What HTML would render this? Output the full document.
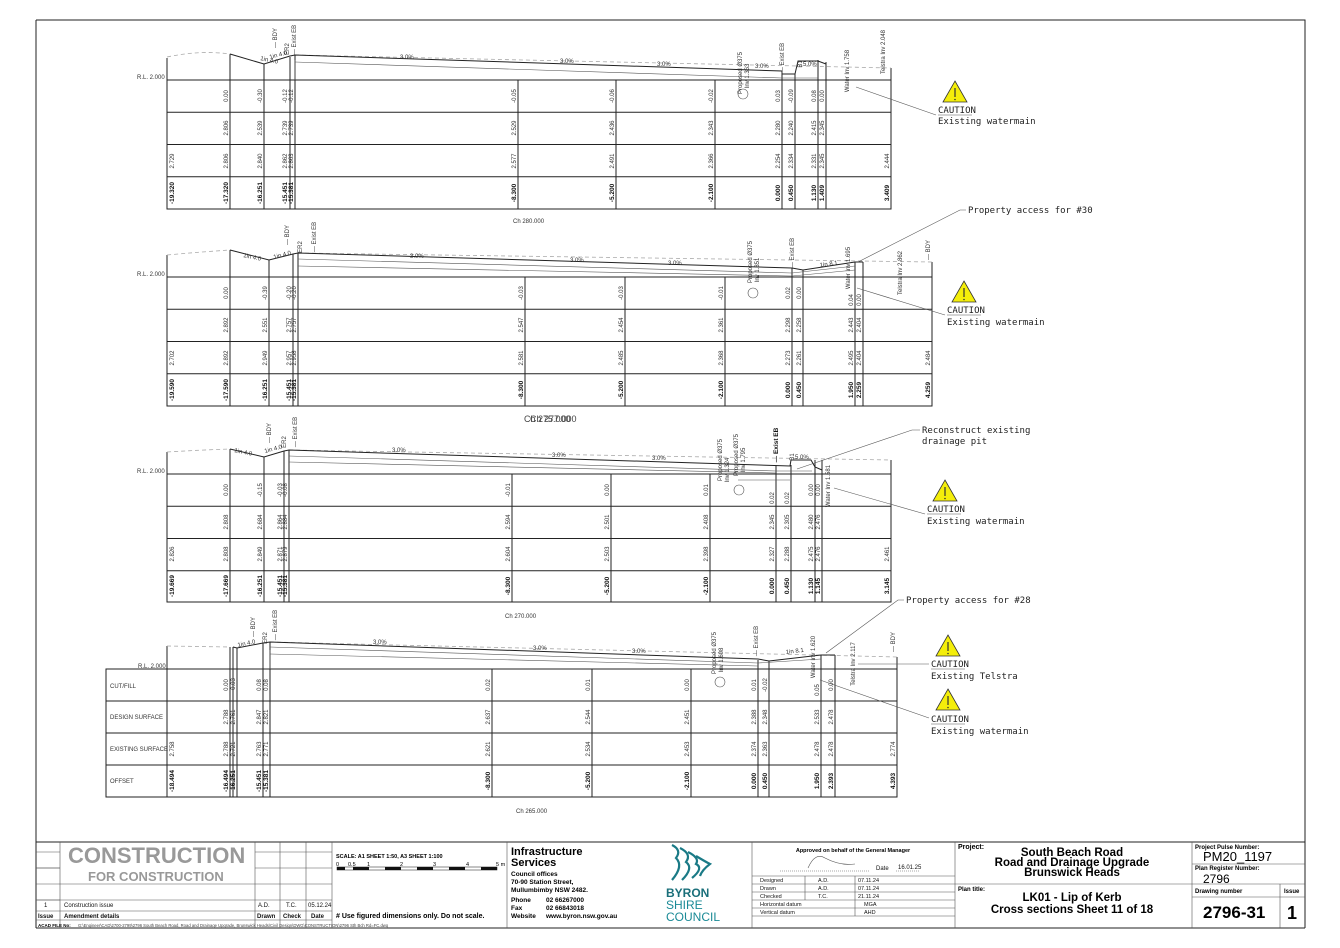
<!DOCTYPE html>
<html><head><meta charset="utf-8"><style>
html,body{margin:0;padding:0;background:#fff;}
svg{display:block;font-family:"Liberation Sans",sans-serif;}
.t{font-size:6px;fill:#333;text-anchor:middle;}
.b{font-size:6.5px;font-weight:bold;fill:#111;text-anchor:middle;}
.s{font-size:6px;fill:#333;}
.ln{stroke:#222;stroke-width:1;fill:none;}
.th{stroke:#555;stroke-width:0.6;fill:none;}
.ds{stroke:#aaa;stroke-width:0.8;fill:none;stroke-dasharray:4 3;}
.an{font-family:"DejaVu Sans Mono","Liberation Mono",monospace;font-size:9px;fill:#222;}
.tb{font-size:6px;fill:#111;}
</style></head><body>
<svg width="1340" height="948" viewBox="0 0 1340 948" xmlns="http://www.w3.org/2000/svg">
<rect x="0" y="0" width="1340" height="948" fill="#fff"/>
<!-- frame -->
<path d="M36 20 H1305 V928" class="ln" stroke-width="0.8"/>
<path d="M36 20 V928" class="ln" stroke-width="0.8"/>

<!-- ============ SECTION 1 ============ -->
<g>
<text x="137" y="79" class="s">R.L. 2.000</text>
<rect x="167" y="80" width="724" height="129" class="ln"/>
<path d="M167 112.3H891M167 144.5H891M167 176.8H891" class="ln"/>
<path d="M230 54V209M264 64V209M290 57V209M295 55V209M518 80V209M616 80V209M715 80V209M782 72V209M795 74V209M818 60V209M826 62V209M891 68V209" class="ln"/>
<path d="M167 80V58" class="ln"/>
<path d="M167 57 Q200 50 230 54" class="ds"/><path d="M295 55 L891 68" class="ds"/>
<path d="M230 54 L264 64 L290 56 L295 55 L782 71 L782 74 L795 74 L798 61 L818 61 L826 64" class="ln" stroke-width="1.3"/>
<path d="M295 62 L782 78 L818 78" class="th"/>
<path d="M295 80 V60" class="th"/>
<text x="260" y="60" class="s" transform="rotate(12 260 60)">1in 4.0</text>
<text x="270" y="59" class="s" transform="rotate(-15 270 59)">1in 4.0</text>
<text x="400" y="59" class="s">3.0%</text><text x="560" y="63" class="s">3.0%</text><text x="657" y="66" class="s">3.0%</text><text x="755" y="68" class="s">3.0%</text><text x="803" y="66" class="s">5.0%</text>
<text class="t" transform="translate(277,38) rotate(-90)">— BDY</text>
<text class="t" transform="translate(296,40) rotate(-90)">— Exist EB</text>
<text class="t" transform="translate(289,49) rotate(-90)">ER2</text>
<text class="t" transform="translate(742,73) rotate(-90)">Proposed Ø375</text>
<text class="t" transform="translate(749,76) rotate(-90)">Inv 1.363</text>
<text class="t" transform="translate(784,58) rotate(-90)">— Exist EB</text>
<text class="t" transform="translate(802,64) rotate(-90)">B1</text>
<text class="t" transform="translate(849,71) rotate(-90)">Water Inv 1.758</text>
<text class="t" transform="translate(885,52) rotate(-90)">Telstra Inv 2.048</text>
<circle cx="743" cy="94" r="5" class="th" stroke-width="0.8"/>
<g class="t">
<text transform="translate(228,96) rotate(-90)">0.00</text><text transform="translate(262,96) rotate(-90)">-0.30</text><text transform="translate(287,96) rotate(-90)">-0.12</text><text transform="translate(293,96) rotate(-90)">-0.12</text><text transform="translate(516,96) rotate(-90)">-0.05</text><text transform="translate(614,96) rotate(-90)">-0.06</text><text transform="translate(713,96) rotate(-90)">-0.02</text><text transform="translate(780,96) rotate(-90)">0.03</text><text transform="translate(793,96) rotate(-90)">-0.09</text><text transform="translate(816,96) rotate(-90)">0.08</text><text transform="translate(824,96) rotate(-90)">0.00</text>
<text transform="translate(228,128) rotate(-90)">2.806</text><text transform="translate(262,128) rotate(-90)">2.539</text><text transform="translate(287,128) rotate(-90)">2.739</text><text transform="translate(293,128) rotate(-90)">2.739</text><text transform="translate(516,128) rotate(-90)">2.529</text><text transform="translate(614,128) rotate(-90)">2.436</text><text transform="translate(713,128) rotate(-90)">2.343</text><text transform="translate(780,128) rotate(-90)">2.280</text><text transform="translate(793,128) rotate(-90)">2.240</text><text transform="translate(816,128) rotate(-90)">2.415</text><text transform="translate(824,128) rotate(-90)">2.345</text>
<text transform="translate(174,161) rotate(-90)">2.729</text><text transform="translate(228,161) rotate(-90)">2.806</text><text transform="translate(262,161) rotate(-90)">2.840</text><text transform="translate(287,161) rotate(-90)">2.862</text><text transform="translate(293,161) rotate(-90)">2.863</text><text transform="translate(516,161) rotate(-90)">2.577</text><text transform="translate(614,161) rotate(-90)">2.491</text><text transform="translate(713,161) rotate(-90)">2.366</text><text transform="translate(780,161) rotate(-90)">2.254</text><text transform="translate(793,161) rotate(-90)">2.334</text><text transform="translate(816,161) rotate(-90)">2.331</text><text transform="translate(824,161) rotate(-90)">2.345</text><text transform="translate(889,161) rotate(-90)">2.444</text>
</g>
<g class="b">
<text transform="translate(174,193) rotate(-90)">-19.320</text><text transform="translate(228,193) rotate(-90)">-17.320</text><text transform="translate(262,193) rotate(-90)">-16.251</text><text transform="translate(287,193) rotate(-90)">-15.451</text><text transform="translate(293,193) rotate(-90)">-15.381</text><text transform="translate(516,193) rotate(-90)">-8.300</text><text transform="translate(614,193) rotate(-90)">-5.200</text><text transform="translate(713,193) rotate(-90)">-2.100</text><text transform="translate(780,193) rotate(-90)">0.000</text><text transform="translate(793,193) rotate(-90)">0.450</text><text transform="translate(816,193) rotate(-90)">1.130</text><text transform="translate(824,193) rotate(-90)">1.409</text><text transform="translate(889,193) rotate(-90)">3.409</text>
</g>
<text x="513" y="223" class="s">Ch 280.000</text>
</g>

<!-- ============ SECTION 2 ============ -->
<g>
<text x="137" y="276" class="s">R.L. 2.000</text>
<rect x="167" y="277" width="765" height="129" class="ln"/>
<path d="M167 309.3H932M167 341.5H932M167 373.8H932" class="ln"/>
<path d="M230 250V406M269 260V406M293 254V406M298 253V406M525 277V406M625 277V406M725 277V406M792 268V406M803 270V406M855 262V406M863 262V406M932 262V406" class="ln"/>
<path d="M167 277V255" class="ln"/>
<path d="M167 255 Q200 252 230 250" class="ds"/><path d="M298 253 L932 262" class="ds"/>
<path d="M230 250 L269 260 L293 254 L298 253 L792 268 L803 270 L855 262 L863 262" class="ln" stroke-width="1.3"/>
<path d="M298 259 L792 273 L855 266" class="th"/><path d="M298 266 L792 276 L855 270" class="th"/>
<text x="243" y="257" class="s" transform="rotate(12 243 257)">1in 4.0</text>
<text x="274" y="259" class="s" transform="rotate(-15 274 259)">1in 4.0</text>
<text x="410" y="258" class="s">3.0%</text><text x="570" y="262" class="s">3.0%</text><text x="668" y="265" class="s">3.0%</text><text x="820" y="267" class="s" transform="rotate(-8 820 267)">1in 8.1</text>
<text class="t" transform="translate(289,235) rotate(-90)">— BDY</text>
<text class="t" transform="translate(316,237) rotate(-90)">— Exist EB</text>
<text class="t" transform="translate(302,247) rotate(-90)">ER2</text>
<text class="t" transform="translate(752,262) rotate(-90)">Proposed Ø375</text>
<text class="t" transform="translate(759,270) rotate(-90)">Inv 1.351</text>
<text class="t" transform="translate(794,253) rotate(-90)">— Exist EB</text>
<text class="t" transform="translate(850,268) rotate(-90)">Water Inv 1.695</text>
<text class="t" transform="translate(902,273) rotate(-90)">Telstra Inv 2.862</text>
<text class="t" transform="translate(930,250) rotate(-90)">— BDY</text>
<circle cx="753" cy="293" r="5" class="th" stroke-width="0.8"/>
<g class="t">
<text transform="translate(228,293) rotate(-90)">0.00</text><text transform="translate(267,293) rotate(-90)">-0.39</text><text transform="translate(291,293) rotate(-90)">-0.20</text><text transform="translate(296,293) rotate(-90)">-0.20</text><text transform="translate(523,293) rotate(-90)">-0.03</text><text transform="translate(623,293) rotate(-90)">-0.03</text><text transform="translate(723,293) rotate(-90)">-0.01</text><text transform="translate(790,293) rotate(-90)">0.02</text><text transform="translate(801,293) rotate(-90)">0.00</text><text transform="translate(853,300) rotate(-90)">0.04</text><text transform="translate(861,300) rotate(-90)">0.00</text>
<text transform="translate(228,325) rotate(-90)">2.892</text><text transform="translate(267,325) rotate(-90)">2.551</text><text transform="translate(291,325) rotate(-90)">2.757</text><text transform="translate(296,325) rotate(-90)">2.757</text><text transform="translate(523,325) rotate(-90)">2.547</text><text transform="translate(623,325) rotate(-90)">2.454</text><text transform="translate(723,325) rotate(-90)">2.361</text><text transform="translate(790,325) rotate(-90)">2.298</text><text transform="translate(801,325) rotate(-90)">2.258</text><text transform="translate(853,325) rotate(-90)">2.443</text><text transform="translate(861,325) rotate(-90)">2.404</text>
<text transform="translate(174,358) rotate(-90)">2.702</text><text transform="translate(228,358) rotate(-90)">2.892</text><text transform="translate(267,358) rotate(-90)">2.949</text><text transform="translate(291,358) rotate(-90)">2.957</text><text transform="translate(296,358) rotate(-90)">2.958</text><text transform="translate(523,358) rotate(-90)">2.581</text><text transform="translate(623,358) rotate(-90)">2.485</text><text transform="translate(723,358) rotate(-90)">2.368</text><text transform="translate(790,358) rotate(-90)">2.273</text><text transform="translate(801,358) rotate(-90)">2.261</text><text transform="translate(853,358) rotate(-90)">2.495</text><text transform="translate(861,358) rotate(-90)">2.404</text><text transform="translate(930,358) rotate(-90)">2.484</text>
</g>
<g class="b">
<text transform="translate(174,390) rotate(-90)">-19.590</text><text transform="translate(228,390) rotate(-90)">-17.590</text><text transform="translate(267,390) rotate(-90)">-16.251</text><text transform="translate(291,390) rotate(-90)">-15.451</text><text transform="translate(296,390) rotate(-90)">-15.381</text><text transform="translate(523,390) rotate(-90)">-8.300</text><text transform="translate(623,390) rotate(-90)">-5.200</text><text transform="translate(723,390) rotate(-90)">-2.100</text><text transform="translate(790,390) rotate(-90)">0.000</text><text transform="translate(801,390) rotate(-90)">0.450</text><text transform="translate(853,390) rotate(-90)">1.950</text><text transform="translate(861,390) rotate(-90)">2.259</text><text transform="translate(930,390) rotate(-90)">4.259</text>
</g>
<text x="524" y="422" style="font-size:9px;fill:#444">Ch 275.000</text>
<text x="530" y="422" style="font-size:9px;fill:#444">Ch 277.000</text>
</g>

<!-- ============ SECTION 3 ============ -->
<g>
<text x="137" y="473" class="s">R.L. 2.000</text>
<rect x="167" y="474" width="724" height="128" class="ln"/>
<path d="M167 506.3H891M167 538.5H891M167 570.8H891" class="ln"/>
<path d="M230 449V602M264 457V602M284 451V602M289 450V602M512 474V602M611 474V602M710 474V602M776 465V602M791 465V602M815 460V602M822 460V602M891 460V602" class="ln"/>
<path d="M167 474V452" class="ln"/>
<path d="M167 452 Q200 450 230 449" class="ds"/><path d="M289 450 L891 460" class="ds"/>
<path d="M230 449 L264 457 L284 451 L289 450 L790 466 L791 460 L811 460 L815 467 L822 470" class="ln" stroke-width="1.3"/>
<path d="M289 456 L776 471 L812 471" class="th"/><path d="M289 462 L776 473" class="th"/>
<path d="M738 480 H790" class="th"/>
<text x="234" y="452" class="s" transform="rotate(12 234 452)">1in 4.0</text>
<text x="265" y="453" class="s" transform="rotate(-15 265 453)">1in 4.0</text>
<text x="392" y="452" class="s">3.0%</text><text x="552" y="457" class="s">3.0%</text><text x="652" y="460" class="s">3.0%</text><text x="795" y="459" class="s">5.0%</text>
<text class="t" transform="translate(271,433) rotate(-90)">— BDY</text>
<text class="t" transform="translate(297,432) rotate(-90)">— Exist EB</text>
<text class="t" transform="translate(286,442) rotate(-90)">ER2</text>
<text class="t" transform="translate(722,460) rotate(-90)">Proposed Ø375</text>
<text class="t" transform="translate(729,470) rotate(-90)">Inv 1.324</text>
<text class="t" transform="translate(738,455) rotate(-90)">Proposed Ø375</text>
<text class="t" transform="translate(745,460) rotate(-90)">Inv 1.795</text>
<text class="b" transform="translate(778,445) rotate(-90)">— Exist EB</text>
<text class="t" transform="translate(794,457) rotate(-90)">B1</text>
<text class="t" transform="translate(830,486) rotate(-90)">Water Inv 1.581</text>
<circle cx="739" cy="490" r="5" class="th" stroke-width="0.8"/>
<g class="t">
<text transform="translate(228,490) rotate(-90)">0.00</text><text transform="translate(262,490) rotate(-90)">-0.15</text><text transform="translate(282,490) rotate(-90)">-0.03</text><text transform="translate(287,490) rotate(-90)">-0.08</text><text transform="translate(510,490) rotate(-90)">-0.01</text><text transform="translate(609,490) rotate(-90)">0.00</text><text transform="translate(708,490) rotate(-90)">0.01</text><text transform="translate(774,498) rotate(-90)">0.02</text><text transform="translate(789,498) rotate(-90)">0.02</text><text transform="translate(813,490) rotate(-90)">0.00</text><text transform="translate(820,490) rotate(-90)">0.00</text>
<text transform="translate(228,522) rotate(-90)">2.808</text><text transform="translate(262,522) rotate(-90)">2.684</text><text transform="translate(282,522) rotate(-90)">2.864</text><text transform="translate(287,522) rotate(-90)">2.884</text><text transform="translate(510,522) rotate(-90)">2.594</text><text transform="translate(609,522) rotate(-90)">2.501</text><text transform="translate(708,522) rotate(-90)">2.408</text><text transform="translate(774,522) rotate(-90)">2.345</text><text transform="translate(789,522) rotate(-90)">2.305</text><text transform="translate(813,522) rotate(-90)">2.480</text><text transform="translate(820,522) rotate(-90)">2.476</text>
<text transform="translate(174,554) rotate(-90)">2.826</text><text transform="translate(228,554) rotate(-90)">2.808</text><text transform="translate(262,554) rotate(-90)">2.849</text><text transform="translate(282,554) rotate(-90)">2.871</text><text transform="translate(287,554) rotate(-90)">2.879</text><text transform="translate(510,554) rotate(-90)">2.604</text><text transform="translate(609,554) rotate(-90)">2.503</text><text transform="translate(708,554) rotate(-90)">2.398</text><text transform="translate(774,554) rotate(-90)">2.327</text><text transform="translate(789,554) rotate(-90)">2.288</text><text transform="translate(813,554) rotate(-90)">2.475</text><text transform="translate(820,554) rotate(-90)">2.476</text><text transform="translate(889,554) rotate(-90)">2.461</text>
</g>
<g class="b">
<text transform="translate(174,586) rotate(-90)">-19.669</text><text transform="translate(228,586) rotate(-90)">-17.669</text><text transform="translate(262,586) rotate(-90)">-16.251</text><text transform="translate(282,586) rotate(-90)">-15.451</text><text transform="translate(287,586) rotate(-90)">-15.381</text><text transform="translate(510,586) rotate(-90)">-8.300</text><text transform="translate(609,586) rotate(-90)">-5.200</text><text transform="translate(708,586) rotate(-90)">-2.100</text><text transform="translate(774,586) rotate(-90)">0.000</text><text transform="translate(789,586) rotate(-90)">0.450</text><text transform="translate(813,586) rotate(-90)">1.130</text><text transform="translate(820,586) rotate(-90)">1.145</text><text transform="translate(889,586) rotate(-90)">3.145</text>
</g>
<text x="505" y="618" class="s">Ch 270.000</text>
</g>

<!-- ============ SECTION 4 ============ -->
<g>
<text x="138" y="668" class="s">R.L. 2.000</text>
<rect x="106" y="669" width="791" height="128" class="ln"/>
<path d="M106 701H897M106 733H897M106 765H897" class="ln"/>
<path d="M167 646V797M230 647V797M233 647V797M237 648V797M263 643V797M270 642V797M492 669V797M592 669V797M691 669V797M758 660V797M769 661V797M821 655V797M835 655V797M897 657V797" class="ln"/>
<path d="M167 646 L230 647" class="ds"/><path d="M270 642 L897 657" class="ds"/>
<path d="M233 647 L237 648 L263 643 L270 642 L758 659 L769 661 L821 655 L835 655" class="ln" stroke-width="1.3"/>
<path d="M270 647 L758 663 L821 659" class="th"/><path d="M270 654 L758 666" class="th"/>
<path d="M270 669 V650" class="th"/>
<text x="238" y="647" class="s" transform="rotate(-12 238 647)">1in 4.0</text>
<text x="373" y="644" class="s">3.0%</text><text x="533" y="650" class="s">3.0%</text><text x="632" y="653" class="s">3.0%</text><text x="786" y="654" class="s" transform="rotate(-7 786 654)">1in 8.1</text>
<text class="t" transform="translate(255,627) rotate(-90)">— BDY</text>
<text class="t" transform="translate(277,625) rotate(-90)">— Exist EB</text>
<text class="t" transform="translate(267,638) rotate(-90)">ER2</text>
<text class="t" transform="translate(716,653) rotate(-90)">Proposed Ø375</text>
<text class="t" transform="translate(723,660) rotate(-90)">Inv 1.608</text>
<text class="t" transform="translate(758,641) rotate(-90)">— Exist EB</text>
<text class="t" transform="translate(815,657) rotate(-90)">Water Inv 1.620</text>
<text class="t" transform="translate(855,664) rotate(-90)">Telstra Inv 2.117</text>
<text class="t" transform="translate(895,642) rotate(-90)">— BDY</text>
<circle cx="720" cy="682" r="5" class="th" stroke-width="0.8"/>
<g class="s"><text x="110" y="688">CUT/FILL</text><text x="110" y="719">DESIGN SURFACE</text><text x="110" y="751">EXISTING SURFACE</text><text x="110" y="783">OFFSET</text></g>
<g class="t">
<text transform="translate(228,685) rotate(-90)">0.00</text><text transform="translate(235,685) rotate(-90)">-0.03</text><text transform="translate(261,685) rotate(-90)">0.08</text><text transform="translate(268,685) rotate(-90)">0.08</text><text transform="translate(490,685) rotate(-90)">0.02</text><text transform="translate(590,685) rotate(-90)">0.01</text><text transform="translate(689,685) rotate(-90)">0.00</text><text transform="translate(756,685) rotate(-90)">0.01</text><text transform="translate(767,685) rotate(-90)">-0.02</text><text transform="translate(819,690) rotate(-90)">0.05</text><text transform="translate(833,685) rotate(-90)">0.00</text>
<text transform="translate(228,717) rotate(-90)">2.788</text><text transform="translate(235,717) rotate(-90)">2.761</text><text transform="translate(261,717) rotate(-90)">2.847</text><text transform="translate(268,717) rotate(-90)">2.821</text><text transform="translate(490,717) rotate(-90)">2.637</text><text transform="translate(590,717) rotate(-90)">2.544</text><text transform="translate(689,717) rotate(-90)">2.451</text><text transform="translate(756,717) rotate(-90)">2.388</text><text transform="translate(767,717) rotate(-90)">2.348</text><text transform="translate(819,717) rotate(-90)">2.533</text><text transform="translate(833,717) rotate(-90)">2.478</text>
<text transform="translate(174,749) rotate(-90)">2.758</text><text transform="translate(228,749) rotate(-90)">2.788</text><text transform="translate(235,749) rotate(-90)">2.721</text><text transform="translate(261,749) rotate(-90)">2.763</text><text transform="translate(268,749) rotate(-90)">2.771</text><text transform="translate(490,749) rotate(-90)">2.621</text><text transform="translate(590,749) rotate(-90)">2.534</text><text transform="translate(689,749) rotate(-90)">2.453</text><text transform="translate(756,749) rotate(-90)">2.374</text><text transform="translate(767,749) rotate(-90)">2.363</text><text transform="translate(819,749) rotate(-90)">2.478</text><text transform="translate(833,749) rotate(-90)">2.478</text><text transform="translate(895,749) rotate(-90)">2.774</text>
</g>
<g class="b">
<text transform="translate(174,781) rotate(-90)">-18.494</text><text transform="translate(228,781) rotate(-90)">-16.494</text><text transform="translate(235,781) rotate(-90)">-16.251</text><text transform="translate(261,781) rotate(-90)">-15.451</text><text transform="translate(268,781) rotate(-90)">-15.381</text><text transform="translate(490,781) rotate(-90)">-8.300</text><text transform="translate(590,781) rotate(-90)">-5.200</text><text transform="translate(689,781) rotate(-90)">-2.100</text><text transform="translate(756,781) rotate(-90)">0.000</text><text transform="translate(767,781) rotate(-90)">0.450</text><text transform="translate(819,781) rotate(-90)">1.950</text><text transform="translate(833,781) rotate(-90)">2.393</text><text transform="translate(895,781) rotate(-90)">4.393</text>
</g>
<text x="516" y="813" class="s">Ch 265.000</text>
</g>

<!-- ============ ANNOTATIONS ============ -->
<defs><g id="tri"><path d="M0 -13 L12 8 L-12 8 Z" fill="#f4ee0a" stroke="#333" stroke-width="0.8"/><path d="M0 -6 V3" stroke="#333" stroke-width="1.2"/><circle cx="0" cy="5.5" r="0.8" fill="#333"/></g></defs>
<g class="an">
<use href="#tri" x="955" y="94"/>
<text x="938" y="113">CAUTION</text><path d="M938 115 H972" class="th"/><text x="938" y="124">Existing watermain</text>
<path d="M936 115 L856 87" class="th"/>
<use href="#tri" x="964" y="294"/>
<text x="947" y="313">CAUTION</text><path d="M947 315 H981" class="th"/><text x="947" y="325">Existing watermain</text>
<path d="M945 315 L857 288" class="th"/>
<text x="968" y="213">Property access for #30</text><path d="M966 210 H960 L858 262" class="th"/>
<text x="922" y="433">Reconstruct existing</text><text x="922" y="444">drainage pit</text><path d="M920 430 H912 L797 469" class="th"/>
<use href="#tri" x="945" y="493"/>
<text x="927" y="512">CAUTION</text><path d="M927 514 H961" class="th"/><text x="927" y="524">Existing watermain</text>
<path d="M925 514 L834 488" class="th"/>
<text x="906" y="603">Property access for #28</text><path d="M904 600 H898 L826 653" class="th"/>
<use href="#tri" x="948" y="648"/>
<text x="931" y="667">CAUTION</text><path d="M931 669 H965" class="th"/><text x="931" y="679">Existing Telstra</text>
<path d="M929 664 L858 664" class="th"/>
<use href="#tri" x="948" y="702"/>
<text x="931" y="722">CAUTION</text><path d="M931 724 H965" class="th"/><text x="931" y="734">Existing watermain</text>
<path d="M929 718 L820 680" class="th"/>
</g>

<!-- ============ TITLE BLOCK ============ -->
<g>
<path d="M36 842 H1305 M36 928 H1305" class="ln" stroke-width="1"/>
<path d="M36 920 H332 M36 911 H332 M36 900 H332 M60 884 H332 M36 868 H60 M36 852 H60 M255 868 H332 M255 852 H332" class="th"/>
<path d="M36 868 H60 M36 884 H60 M36 900 H60" class="th"/>
<path d="M60 842 V928 M255 842 V928 M280 842 V928 M306 842 V928 M332 842 V928 M507 842 V928 M752 842 V928 M955 842 V928 M1192 842 V928 M1280 884 V928" class="th"/>
<text x="68" y="863" style="font-size:22px;font-weight:bold;fill:#999">CONSTRUCTION</text>
<text x="88" y="881" style="font-size:13px;font-weight:bold;fill:#999">FOR CONSTRUCTION</text>
<text x="44" y="907" class="tb">1</text><text x="64" y="907" class="tb">Construction issue</text><text x="258" y="907" class="tb">A.D.</text><text x="286" y="907" class="tb">T.C.</text><text x="308" y="907" class="tb">05.12.24</text>
<g style="font-size:6px;font-weight:bold;fill:#111"><text x="38" y="918">Issue</text><text x="64" y="918">Amendment details</text><text x="257" y="918">Drawn</text><text x="283" y="918">Check</text><text x="311" y="918">Date</text></g>
<text x="336" y="918" style="font-size:7px;font-weight:bold">#  Use figured dimensions only. Do not scale.</text>
<text x="336" y="858" style="font-size:5.5px;font-weight:bold">SCALE: A1 SHEET 1:50, A3 SHEET 1:100</text>
<g style="font-size:5.5px"><text x="336" y="866">0</text><text x="348" y="866">0.5</text><text x="367" y="866">1</text><text x="400" y="866">2</text><text x="433" y="866">3</text><text x="466" y="866">4</text><text x="496" y="866">5 m</text></g>
<rect x="337" y="867" width="160" height="3" fill="#fff" stroke="#111" stroke-width="0.5"/>
<g fill="#111"><rect x="337" y="867" width="8" height="3"/><rect x="353" y="867" width="16" height="3"/><rect x="385" y="867" width="16" height="3"/><rect x="417" y="867" width="16" height="3"/><rect x="449" y="867" width="16" height="3"/><rect x="481" y="867" width="16" height="3"/></g>
<text x="511" y="855" style="font-size:11px;font-weight:bold">Infrastructure</text>
<text x="511" y="866" style="font-size:11px;font-weight:bold">Services</text>
<g style="font-size:6.5px;font-weight:bold"><text x="511" y="876">Council offices</text><text x="511" y="884">70-90 Station Street,</text><text x="511" y="892">Mullumbimby  NSW 2482.</text><text x="511" y="902">Phone</text><text x="546" y="902">02 66267000</text><text x="511" y="910">Fax</text><text x="546" y="910">02 66843018</text><text x="511" y="918">Website</text><text x="546" y="918">www.byron.nsw.gov.au</text></g>
<g stroke="#1a7a86" stroke-width="2.2" fill="none"><path d="M672 845 Q682 850 676 858 Q684 866 672 880"/><path d="M680 848 Q692 854 686 862 Q694 868 682 880"/><path d="M688 852 Q700 858 696 864 Q704 868 692 878"/><path d="M696 856 Q706 862 710 864 Q702 870 700 876"/></g>
<text x="666" y="897" style="font-size:12px;font-weight:bold;fill:#1a6f7a">BYRON</text>
<text x="666" y="909" style="font-size:12px;fill:#1a8a96">SHIRE</text>
<text x="666" y="921" style="font-size:12px;fill:#1a8a96">COUNCIL</text>
<text x="853" y="852" style="font-size:5.5px;font-weight:bold" text-anchor="middle">Approved on behalf of the General Manager</text>
<path d="M808 868 Q815 852 825 858 Q840 866 855 864" class="th"/>
<path d="M780 871 H870 M896 871 H920" class="th" stroke-dasharray="1 1"/>
<text x="876" y="870" class="tb">Date</text><text x="898" y="869" class="tb">16.01.25</text>
<path d="M752 876 H955 M752 884 H955 M752 892 H955 M752 900 H955 M752 908 H955 M752 916 H955 M805 876 V900 M855 876 V916" class="th"/>
<g class="tb" style="font-size:5.5px"><text x="760" y="882">Designed</text><text x="818" y="882">A.D.</text><text x="858" y="882">07.11.24</text><text x="760" y="890">Drawn</text><text x="818" y="890">A.D.</text><text x="858" y="890">07.11.24</text><text x="760" y="898">Checked</text><text x="818" y="898">T.C.</text><text x="858" y="898">21.11.24</text><text x="760" y="906">Horizontal datum</text><text x="864" y="906">MGA</text><text x="760" y="914">Vertical datum</text><text x="864" y="914">AHD</text></g>
<path d="M955 884 H1192" class="th"/>
<text x="958" y="849" style="font-size:7px;font-weight:bold">Project:</text>
<g style="font-size:11.5px;font-weight:bold" text-anchor="middle"><text x="1072" y="856">South Beach Road</text><text x="1072" y="866">Road and Drainage Upgrade</text><text x="1072" y="876">Brunswick Heads</text><text x="1072" y="901">LK01 - Lip of Kerb</text><text x="1072" y="913">Cross sections Sheet 11 of 18</text></g>
<text x="958" y="891" style="font-size:6px;font-weight:bold">Plan title:</text>
<path d="M1192 864 H1305 M1192 884 H1305 M1192 897 H1305" class="th"/>
<g style="font-size:6px;font-weight:bold"><text x="1195" y="849">Project Pulse Number:</text><text x="1195" y="870">Plan Register Number:</text><text x="1195" y="893">Drawing number</text><text x="1284" y="893">Issue</text></g>
<text x="1203" y="861" style="font-size:13px">PM20_1197</text>
<text x="1203" y="883" style="font-size:12px">2796</text>
<text x="1203" y="918" style="font-size:17px;font-weight:bold">2796-31</text>
<text x="1287" y="919" style="font-size:18px;font-weight:bold">1</text>
<text x="38" y="927" style="font-size:4.5px;font-weight:bold">ACAD FILE No:</text>
<text x="78" y="927" style="font-size:4.2px;fill:#444">G:\Engineer\CAD\2700-2799\2796  South Beach Road, Road and Drainage Upgrade, Brunswick Heads\Civil Design\DWG\CONSTRUCTION\2796  Sth Bch Rd=FC.dwg</text>
</g>
</svg>
</body></html>
